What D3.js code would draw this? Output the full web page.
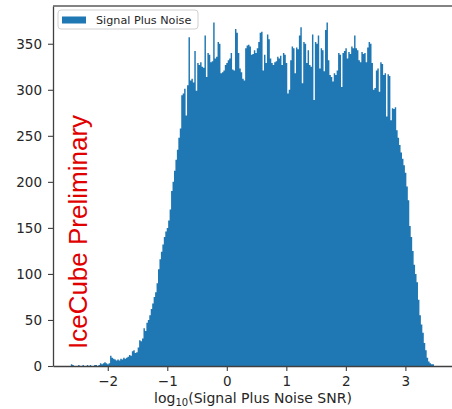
<!DOCTYPE html>
<html lang="en">
<head>
<meta charset="UTF-8">
<script src="https://d3js.org/d3.v7.min.js"></script>
<title>Signal Plus Noise SNR</title>
<style>
  body { margin: 0; background: #fff; }
  svg text { font-family: "DejaVu Sans", sans-serif; fill: #262626; }
</style>
</head>
<body>
<svg id="chart" width="452" height="409"></svg>
<script>
// histogram of log10(SNR), bin edges run from binLo to binHi
const binLo = -2.62;
const binHi = 3.48;
const counts = [
  2, 1, 0, 0, 0, 1, 0, 0, 1, 0, 0, 1, 0, 1, 0, 0, 1, 1, 0, 1,
  3, 2, 3, 4, 3, 2, 3,
  11, 9, 8, 7,
  6, 7, 6, 8, 7, 9,
  8, 9, 10, 12, 11,
  16, 17, 14, 15,
  20, 28, 27, 30,
  41, 38, 47, 50,
  55, 62, 68, 75,
  80, 90, 105, 116,
  124, 132, 140, 146,
  150, 158, 170, 190,
  200, 212, 224, 235,
  248, 258,
  294, 296, 301, 272, 305, 357,
  310, 312, 308,
  342, 299,
  329, 327, 330, 325, 324,
  359, 314, 340,
  338, 330, 331, 373, 334,
  336, 352, 350, 318, 319,
  321, 327, 329, 332, 334,
  340, 322, 321, 366, 362,
  340, 323, 319, 312, 310,
  345, 348, 349, 347, 338,
  339, 343, 340, 345, 352,
  362, 363, 321, 338, 329,
  360, 355, 334, 329, 327,
  330, 331, 336, 334, 337,
  327, 340, 338, 329, 296,
  300, 332, 347, 345, 318,
  346, 344, 359, 368, 307,
  352, 350, 329, 343, 327,
  325, 360, 289, 352, 350,
  359, 323, 345, 343, 320,
  365, 373, 332, 316, 314,
  309, 318, 316, 321, 340,
  338, 303, 340, 342, 345,
  334, 341, 339, 347, 345,
  359, 345, 343, 332, 330,
  341, 339, 340, 330, 346,
  352, 350, 329, 300, 302,
  321, 323, 298, 330, 328,
  316, 318, 271, 317, 315,
  267, 280, 279, 281, 256,
  248, 240, 232, 225, 218,
  210, 195, 180, 152, 140,
  125, 110, 100, 91, 72,
  55, 45, 36, 25, 17,
  9, 5, 3, 2, 2
];
const xTicks = [-2, -1, 0, 1, 2, 3];
const yTicks = [0, 50, 100, 150, 200, 250, 300, 350];
const legendLabel = "Signal Plus Noise";
const watermark = "IceCube Preliminary";

const svg = d3.select("#chart");
const plot = { left: 53, top: 6, right: 453, bottom: 366 };

const x = d3.scaleLinear().domain([-2.92, 3.8]).range([plot.left, plot.right]);
const y = d3.scaleLinear().domain([0, 391]).range([plot.bottom, plot.top]);

const step = (binHi - binLo) / counts.length;
// step points: each bin's left edge, plus the closing right edge
const pts = counts.map((c, i) => ({ x: binLo + i * step, n: c }));
pts.push({ x: binHi, n: counts[counts.length - 1] });

// bars drawn as one stepped area so neighbouring bins have no seams
const area = d3.area()
  .curve(d3.curveStepAfter)
  .x(d => x(d.x))
  .y0(y(0))
  .y1(d => y(d.n));

svg.append("path")
  .datum(pts)
  .attr("d", area)
  .attr("fill", "#1f77b4");

// axes
const xAxis = svg.append("g")
  .attr("transform", `translate(0,${plot.bottom})`)
  .call(d3.axisBottom(x).tickValues(xTicks).tickFormat(d3.format("d"))
    .tickSize(5).tickPadding(5).tickSizeOuter(0));
const yAxis = svg.append("g")
  .attr("transform", `translate(${plot.left},0)`)
  .call(d3.axisLeft(y).tickValues(yTicks).tickSize(5).tickPadding(6).tickSizeOuter(0));

[xAxis, yAxis].forEach(g => {
  g.selectAll("text").style("font-size", "13.5px").attr("fill", "#262626");
  g.selectAll("line").attr("stroke", "#404040").attr("stroke-width", 1.1);
  g.select(".domain").attr("stroke", "#404040").attr("stroke-width", 1.3);
});

// top spine
svg.append("line")
  .attr("x1", plot.left).attr("x2", plot.right)
  .attr("y1", plot.top).attr("y2", plot.top)
  .attr("stroke", "#5a5a5a").attr("stroke-width", 1.3);

// x label with subscript
const xl = svg.append("text")
  .attr("x", (plot.left + plot.right) / 2)
  .attr("y", 403)
  .attr("text-anchor", "middle")
  .style("font-size", "14px");
xl.append("tspan").text("log");
xl.append("tspan").attr("dy", 3).style("font-size", "10px").text("10");
xl.append("tspan").attr("dy", -3).text("(Signal Plus Noise SNR)");

// legend
const lg = svg.append("g");
lg.append("rect")
  .attr("x", 58).attr("y", 10).attr("width", 140).attr("height", 19)
  .attr("rx", 3)
  .attr("fill", "white").attr("fill-opacity", 0.85)
  .attr("stroke", "#d0d0d0");
lg.append("rect")
  .attr("x", 62).attr("y", 16.5).attr("width", 24).attr("height", 7)
  .attr("fill", "#1f77b4");
lg.append("text")
  .attr("x", 96).attr("y", 23.5)
  .style("font-size", "11.2px")
  .text(legendLabel);

// watermark
svg.append("text")
  .attr("transform", "translate(87,232) rotate(-90)")
  .attr("text-anchor", "middle")
  .style("font-family", "'Liberation Sans', Arial, sans-serif")
  .style("font-size", "26px")
  .style("fill", "#e00000")
  .text(watermark);
</script>
</body>
</html>
